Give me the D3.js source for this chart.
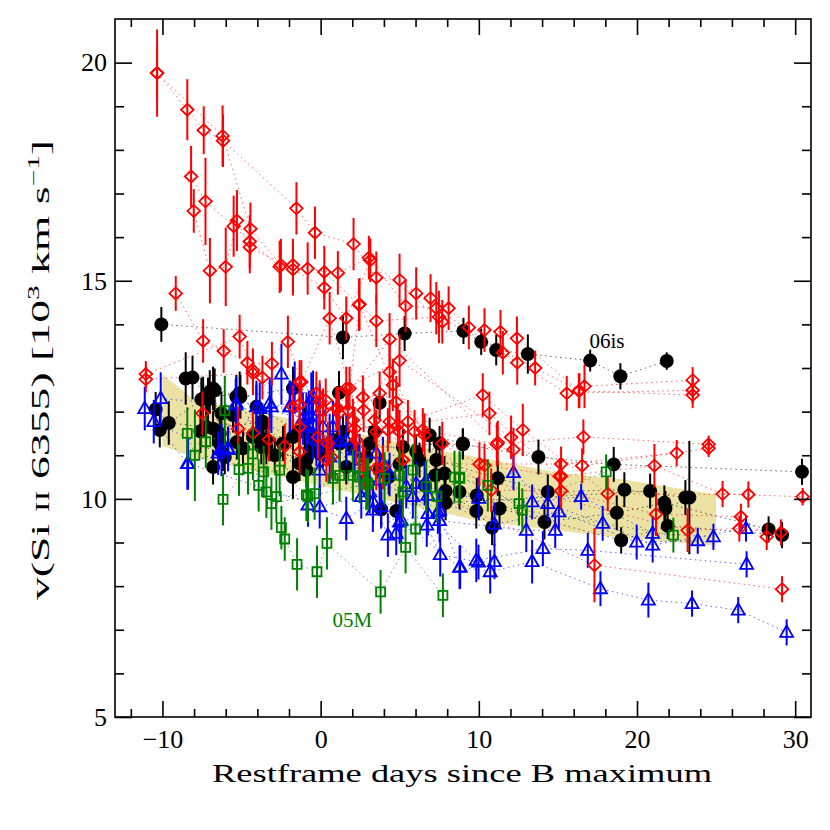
<!DOCTYPE html>
<html>
<head>
<meta charset="utf-8">
<script src="https://cdn.jsdelivr.net/npm/d3@7"></script>
<style>
  body { margin: 0; background: #fff; }
  text { font-family: "Liberation Serif", serif; }
</style>
</head>
<body>
<svg id="drawing_region"></svg>
<script>
// one track per SN, points are [day, v (10^3 km/s), error]
const black_tracks = [
  [[-10.07,14.0,0.4],[1.41,13.7,0.5],[5.31,13.79,0.4],[9.03,13.85,0.3],[10.15,13.6,0.3],[11.1,13.41,0.35],[13.1,13.32,0.45],[17.04,13.17,0.25],[18.95,12.81,0.3],[21.88,13.16,0.2]],
  [[-10.43,12.05,0.4],[-9.6,11.74,0.5],[-7.24,11.65,0.5],[-4.28,11.42,0.4],[-1.75,11.42,0.4],[1.2,11.27,0.4],[3.1,11.27,0.4],[6.04,11.08,0.4],[8.99,11.25,0.35],[13.77,10.96,0.4],[18.53,10.79,0.4],[30.43,10.62,0.3]],
  [[-8.53,12.76,0.6],[-6.8,12.53,0.5],[-5.07,12.34,0.5],[-1.75,12.53,0.5],[1.16,12.43,0.5],[3.73,12.2,0.4]],
  [[-8.1,12.78,0.5],[-7.12,12.28,0.5],[-6.27,11.96,0.5],[-4.06,12.11,0.5],[-1.33,11.54,0.4],[1.41,11.54,0.4],[3.41,11.54,0.4],[6.89,11.46,0.4],[8.99,11.27,0.35]],
  [[-10.17,11.58,0.4],[-7.54,12.28,0.5],[-6.8,11.61,0.4],[-3.68,11.77,0.4],[-0.06,11.04,0.4],[2.04,11.19,0.4],[5.2,11.19,0.4],[7.52,11.27,0.4]],
  [[-6.38,11.5,0.4],[-5.54,11.92,0.4],[-3.75,11.19,0.4],[-0.9,10.89,0.4],[0.57,11.27,0.4],[6.25,10.89,0.4],[7.31,10.89,0.4],[11.2,10.47,0.4],[14.36,10.16,0.4],[19.2,10.21,0.4],[23.06,10.03,0.4]],
  [[-6.06,10.96,0.4],[-4.91,11.16,0.4],[-3.43,11.35,0.4],[-1.75,10.5,0.5],[0.78,11.35,0.4],[3.83,9.76,0.4],[7.83,10.58,0.4],[8.78,10.16,0.4],[9.87,10.08,0.4],[14.15,9.47,0.4],[18.72,9.68,0.4],[21.73,9.91,0.4],[28.32,9.3,0.3]],
  [[-6.8,10.73,0.4],[0.15,11.12,0.4],[4.78,9.72,0.4],[7.26,10.54,0.4],[7.9,10.18,0.4],[9.84,9.72,0.4],[10.84,9.34,0.4],[11.31,9.78,0.4],[19.0,9.05,0.3],[21.94,9.38,0.3],[29.17,9.17,0.3]],
  [[1.62,10.73,0.4],[3.73,10.66,0.4],[4.99,10.8,0.4],[7.9,9.91,0.4],[20.83,10.18,0.4],[21.8,9.78,0.4],[23.31,10.03,1.3]],
  [[-7.6,11.55,0.5],[-5.3,11.3,0.4],[-2.9,11.0,0.4],[-1.0,11.6,0.5],[2.9,10.95,0.4],[4.3,10.5,0.4],[6.6,10.3,0.4]],
  [[-7.43,12.3,0.5],[-5.12,12.42,0.5],[-3.64,11.73,0.4],[-2.38,11.27,0.4],[-0.49,11.42,0.4]],
  [[-7.01,12.45,0.5],[-5.33,12.34,0.5],[-3.96,11.5,0.4],[-1.33,10.81,0.4],[-0.69,11.12,0.4]],
  [[-6.7,12.49,0.5],[-6.38,11.27,0.4],[-6.17,11.04,0.4],[-3.43,11.19,0.4],[-0.9,10.66,0.4]]
];

const red_tracks = [
  [[-10.34,19.76,1.0],[-8.43,18.92,0.7],[-7.39,18.45,0.55],[-6.17,18.21,0.6],[-1.53,16.66,0.6],[-0.36,16.1,0.6],[2.08,15.84,0.6],[3.52,15.07,0.6],[4.99,15.02,0.6],[6.04,14.71,0.6],[6.95,14.6,0.55],[8.09,14.37,0.5],[9.37,13.93,0.5],[10.36,13.87,0.5],[11.37,13.83,0.5],[12.41,13.68,0.5],[16.32,12.48,0.4],[16.68,12.58,0.5],[23.52,12.72,0.3]],
  [[-10.34,19.76,0.6],[-6.2,18.32,0.7],[-4.44,16.19,0.6],[-2.51,15.36,0.6],[-0.82,15.28,0.6],[1.09,15.18,0.5],[3.05,15.53,0.5],[5.37,14.42,0.6],[7.31,14.37,0.6],[11.52,13.35,0.5],[12.43,13.12,0.5],[15.56,12.42,0.4],[23.52,12.49,0.3]],
  [[-8.19,17.39,0.7],[-7.28,16.82,1.0],[-5.5,16.25,0.7],[-4.48,15.9,0.6],[-2.59,15.32,0.6],[-1.75,15.36,0.6],[0.23,15.2,0.6],[2.42,14.45,0.6],[3.52,14.08,0.6],[7.48,14.17,0.6],[13.56,13.0,0.4],[16.36,12.48,0.4],[23.52,12.38,0.3]],
  [[-8.02,16.6,0.5],[-7.0,15.23,0.75],[-6.0,15.32,0.9],[-5.29,16.38,0.7],[-4.48,15.77,0.6],[-1.75,15.26,0.6],[0.23,14.84,0.5],[1.62,14.14,0.5],[3.14,15.47,0.5],[7.69,14.06,0.5]],
  [[-9.16,14.71,0.4],[-7.43,13.62,0.5],[-6.13,13.39,0.5],[-4.63,13.12,0.5],[-3.08,13.1,0.5],[-1.33,12.68,0.5],[0.32,12.26,0.5],[2.72,12.03,0.5],[4.36,12.91,0.6],[6.57,11.46,0.5],[10.04,10.8,0.5],[15.2,10.8,0.4],[22.51,11.05,0.3]],
  [[-11.05,12.86,0.3],[-5.12,13.72,0.5],[-4.28,12.95,0.5],[-2.07,13.6,0.6],[-1.22,12.68,0.5],[0.57,14.14,0.6],[1.83,12.53,0.5],[2.46,14.46,0.6],[4.57,12.61,0.6],[6.46,11.58,0.5],[11.14,11.25,0.5],[16.61,11.42,0.4],[24.53,11.25,0.2]],
  [[-11.05,12.74,0.3],[-4.28,12.88,0.5],[-3.68,12.78,0.5],[-1.75,12.11,0.5],[-0.27,12.42,0.5],[1.09,12.07,0.5],[3.73,12.42,0.5],[4.78,12.22,0.6],[7.69,11.27,0.5],[12.19,11.13,0.5],[16.53,10.76,0.4],[24.53,11.16,0.2]],
  [[-7.47,11.96,0.5],[-5.22,11.61,0.5],[-4.28,11.51,0.5],[-3.27,11.36,0.5],[-2.27,11.21,0.5],[-1.33,11.08,0.5],[0.46,11.27,0.5],[2.25,11.35,0.5],[3.94,10.73,0.5],[5.2,10.89,0.5],[10.36,10.77,0.5],[15.2,10.52,0.4],[21.1,10.76,0.5],[25.41,10.11,0.3],[30.47,10.05,0.2]],
  [[-1.33,12.17,0.5],[-0.06,12.22,0.5],[1.16,11.96,0.5],[2.67,12.33,0.5],[3.41,11.8,0.5],[4.25,11.58,0.5],[5.52,11.77,0.5],[10.25,12.38,0.5],[12.78,11.58,0.6],[18.15,10.12,0.4],[27.04,10.1,0.3]],
  [[-0.17,11.42,0.5],[0.68,10.96,0.5],[2.04,11.8,0.5],[3.52,11.54,0.5],[4.99,11.54,0.5],[5.94,11.54,0.5],[10.78,10.2,0.5],[15.2,10.18,0.4],[21.2,9.65,0.5],[26.57,9.59,0.3],[28.2,9.13,0.3]],
  [[-1.33,11.65,0.5],[0.15,12.03,0.5],[1.72,12.03,0.5],[2.15,11.61,0.5],[4.88,11.69,0.5],[10.67,11.96,0.5],[15.1,10.52,0.4]],
  [[0.36,10.89,0.5],[2.67,10.81,0.5],[3.52,10.7,0.5],[17.31,8.48,0.85],[29.17,7.93,0.3]],
  [[2.78,10.7,0.5],[4.36,11.77,0.5],[5.2,10.89,0.5],[23.2,9.28,0.5],[26.47,9.32,0.3],[29.1,9.23,0.3]],
  [[0.99,12.07,0.5],[4.36,13.66,0.6],[11.2,11.29,0.5]],
  [[1.62,12.53,0.5],[4.99,13.17,0.6],[12.04,11.41,0.5]]
];

const blue_tracks = [
  [[-11.12,12.07,0.5],[-8.43,10.81,0.6],[-5.85,11.13,0.5],[-3.11,12.11,0.6],[-0.59,12.3,0.6],[1.62,11.35,0.6],[3.52,11.05,0.6],[6.04,10.35,0.5],[10.0,10.01,0.5],[13.37,9.93,0.4],[16.47,10.05,0.3],[20.99,9.21,0.4],[24.83,9.13,0.3]],
  [[-10.55,11.77,0.5],[-6.48,11.05,0.5],[-3.85,12.07,0.6],[-0.9,11.84,0.6],[0.78,11.65,0.6],[2.46,10.89,0.6],[4.36,10.56,0.5],[6.57,10.35,0.5],[7.52,9.74,0.5],[12.19,10.6,0.4],[14.36,9.89,0.4],[17.83,9.44,0.4],[20.99,8.94,0.4],[26.89,9.32,0.3]],
  [[-10.11,12.3,0.6],[-5.37,12.15,0.6],[-2.48,12.86,0.7],[-1.64,12.55,0.6],[-0.48,12.34,0.6],[0.15,11.65,0.6],[1.2,11.31,0.6],[3.73,10.43,0.5],[6.78,10.08,0.5],[10.99,9.42,0.5],[15.06,9.7,0.4],[19.98,9.01,0.4],[23.84,9.04,0.3]],
  [[-1.91,12.11,0.6],[-0.74,11.88,0.6],[0.57,11.35,0.6],[2.15,11.12,0.6],[3.94,10.82,0.6],[5.41,10.28,0.5],[7.52,9.5,0.5],[13.0,9.28,0.5],[14.83,9.28,0.4]],
  [[-0.06,12.03,0.6],[0.57,10.96,0.6],[2.88,10.5,0.5],[5.83,10.05,0.5],[6.78,9.66,0.5],[9.84,8.59,0.5],[14.05,8.86,0.4],[16.89,8.82,0.4],[26.93,8.5,0.3]],
  [[-0.06,10.66,0.6],[3.1,10.16,0.5],[3.3,9.74,0.5],[4.99,9.47,0.5],[7.41,9.7,0.5],[8.82,8.44,0.5],[10.72,8.33,0.5],[13.37,8.56,0.5],[17.69,7.94,0.4],[20.72,7.68,0.4],[23.48,7.6,0.3],[26.4,7.45,0.3],[29.46,6.94,0.3]],
  [[-0.8,9.86,0.5],[1.62,9.55,0.5],[3.31,9.93,0.5],[4.25,9.17,0.5],[6.71,9.4,0.5],[7.56,8.72,0.5],[9.98,8.55,0.4],[10.99,8.56,0.4]],
  [[-8.38,10.81,0.6],[-0.06,9.82,0.5],[2.57,10.05,0.5],[3.83,9.82,0.5],[5.1,9.51,0.5],[4.78,9.21,0.5],[8.78,8.43,0.5]],
  [[-6.27,11.12,0.6],[-5.33,12.19,0.6],[-3.22,12.19,0.6],[-1.12,11.84,0.6],[-0.49,11.5,0.6]],
  [[-5.85,11.16,0.5],[-4.06,12.11,0.6],[-1.96,12.11,0.6],[-0.9,11.65,0.6],[-0.27,11.35,0.6]]
];

const green_tracks = [
  [[-2.48,9.34,0.5],[-2.27,9.08,0.5],[-1.49,8.5,0.6],[-0.23,8.33,0.6],[0.4,8.98,0.6],[3.79,7.87,0.5],[5.37,8.89,0.6],[7.73,7.79,0.5]],
  [[-8.43,11.5,0.6],[-7.95,11.0,1.05],[-7.26,11.31,0.6],[-6.06,12.02,0.8],[-5.16,10.67,0.6],[-3.6,10.62,0.6],[-2.59,10.66,0.6],[-0.9,10.09,0.6],[1.2,10.54,0.6],[2.46,10.5,0.6],[4.04,10.47,0.6],[5.83,10.66,0.6],[8.78,10.5,0.6],[12.54,9.89,0.5],[18.05,10.62,0.4]],
  [[-6.17,9.99,0.6],[-4.59,10.7,0.6],[-3.43,10.16,0.6],[-2.8,10.05,0.6],[-0.38,10.12,0.6],[0.78,10.47,0.6],[2.04,10.54,0.6],[2.99,10.35,0.6],[4.99,10.54,0.6],[6.68,10.28,0.6],[8.46,10.5,0.6],[10.57,10.31,0.6],[12.75,9.74,0.5],[22.3,9.17,0.4]],
  [[-4.28,11.03,0.6],[-3.92,10.31,0.6],[-3.11,9.89,0.6],[-0.8,10.06,0.6],[2.88,10.34,0.6],[5.2,10.16,0.6],[6.0,9.31,0.6],[7.35,10.06,0.6],[8.8,10.47,0.6]]
];

// shaded band (mean +- spread)
const band_upper = [[-10,12.85],[-8,12.27],[0,11.7],[6,11.2],[10,10.95],[15,10.6],[19,10.45],[25,10.1]];
const band_lower = [[25,8.92],[18,9.15],[13,9.36],[10,9.5],[5,9.9],[0,10.3],[-8,10.95],[-10,11.22]];

const x_major = [-10, 0, 10, 20, 30];
const x_minor = [-12, -8, -6, -4, -2, 2, 4, 6, 8, 12, 14, 16, 18, 22, 24, 26, 28];
const y_major = [5, 10, 15, 20];
const y_minor = [6, 7, 8, 9, 11, 12, 13, 14, 16, 17, 18, 19];

const notes = [
  {text: '06is', day: 18.1, v: 13.46, color: 'black'},
  {text: '05M', day: 2.0, v: 7.06, color: '#008000'}
];

class VelocityPlot {

  constructor( config ) {
    this.config = config;
    this.init();
  }

  init() {
    let self = this;
    const c = self.config;

    self.svg = d3.select( c.parent )
      .attr('width', c.width)
      .attr('height', c.height);

    self.inner_width = c.width - c.margin.left - c.margin.right;
    self.inner_height = c.height - c.margin.top - c.margin.bottom;

    self.chart = self.svg.append('g')
      .attr('transform', `translate(${c.margin.left}, ${c.margin.top})`);

    self.xscale = d3.scaleLinear()
      .domain( [-13, 31] )
      .range( [0, self.inner_width] );

    self.yscale = d3.scaleLinear()
      .domain( [5, 21] )
      .range( [self.inner_height, 0] );

    self.chart.append('clipPath').attr('id', 'clip')
      .append('rect')
      .attr('width', self.inner_width)
      .attr('height', self.inner_height);

    self.plot = self.chart.append('g').attr('clip-path', 'url(#clip)');
  }

  render() {
    let self = this;

    const line = d3.line()
      .x(d => self.xscale(d[0]))
      .y(d => self.yscale(d[1]));

    // band
    self.plot.append('path')
      .attr('d', line(band_upper.concat(band_lower)) + 'Z')
      .attr('fill', '#ece2a4')
      .attr('stroke', 'none');

    const series = [
      {tracks: black_tracks, color: '#000000', shape: 'circle'},
      {tracks: blue_tracks,  color: '#0000ff', shape: 'triangle'},
      {tracks: red_tracks,   color: '#ff0000', shape: 'diamond'},
      {tracks: green_tracks, color: '#008000', shape: 'square'}
    ];

    // dotted connectors first
    series.forEach( s => {
      self.plot.append('g')
        .selectAll('path')
        .data(s.tracks)
        .join('path')
        .attr('d', d => line(d.slice().sort((a, b) => a[0] - b[0])))
        .attr('fill', 'none')
        .attr('stroke', s.color)
        .attr('stroke-width', 1)
        .attr('stroke-opacity', 0.6)
        .attr('stroke-dasharray', '1.5,3.5');
    });

    const shapes = {
      circle: 'M7,0A7,7,0,1,1,-7,0A7,7,0,1,1,7,0Z',
      triangle: 'M0,-7L6.5,4.5L-6.5,4.5Z',
      diamond: 'M0,-6L6.3,0L0,6L-6.3,0Z',
      square: 'M-4.5,-4.5L4.5,-4.5L4.5,4.5L-4.5,4.5Z'
    };

    series.forEach( s => {
      const pts = s.tracks.flat();
      const g = self.plot.append('g');

      g.selectAll('line')
        .data(pts)
        .join('line')
        .attr('x1', d => self.xscale(d[0]))
        .attr('x2', d => self.xscale(d[0]))
        .attr('y1', d => self.yscale(d[1] - d[2]))
        .attr('y2', d => self.yscale(d[1] + d[2]))
        .attr('stroke', s.color)
        .attr('stroke-width', 2);

      g.selectAll('path')
        .data(pts)
        .join('path')
        .attr('transform', d => `translate(${self.xscale(d[0])},${self.yscale(d[1])})`)
        .attr('d', shapes[s.shape])
        .attr('fill', s.shape == 'circle' ? s.color : 'none')
        .attr('stroke', s.color)
        .attr('stroke-width', s.shape == 'circle' ? 0 : 1.8);
    });

    // annotations
    self.chart.selectAll('.note')
      .data(notes)
      .join('text')
      .attr('class', 'note')
      .attr('x', d => self.xscale(d.day))
      .attr('y', d => self.yscale(d.v))
      .attr('text-anchor', 'middle')
      .attr('font-size', '21px')
      .attr('fill', d => d.color)
      .text(d => d.text);

    // frame
    self.chart.append('rect')
      .attr('width', self.inner_width)
      .attr('height', self.inner_height)
      .attr('fill', 'none')
      .attr('stroke', 'black')
      .attr('stroke-width', 1.6);

    self.axes();
  }

  axes() {
    let self = this;
    const w = self.inner_width, h = self.inner_height;

    const style = g => {
      g.select('.domain').remove();
      g.selectAll('.tick line').attr('stroke', 'black').attr('stroke-width', 1.6);
      g.selectAll('text').attr('font-family', '"Liberation Serif", serif').attr('font-size', '26px').attr('fill', 'black');
    };

    // bottom
    self.chart.append('g').attr('transform', `translate(0,${h})`)
      .call(d3.axisBottom(self.xscale).tickValues(x_major).tickSize(-16).tickPadding(13)
        .tickFormat(d => d < 0 ? '\u2212' + Math.abs(d) : d))
      .call(style);
    self.chart.append('g').attr('transform', `translate(0,${h})`)
      .call(d3.axisBottom(self.xscale).tickValues(x_minor).tickSize(-8).tickFormat(''))
      .call(style);
    // top
    self.chart.append('g')
      .call(d3.axisTop(self.xscale).tickValues(x_major).tickSize(-16).tickFormat(''))
      .call(style);
    self.chart.append('g')
      .call(d3.axisTop(self.xscale).tickValues(x_minor).tickSize(-8).tickFormat(''))
      .call(style);
    // left
    self.chart.append('g')
      .call(d3.axisLeft(self.yscale).tickValues(y_major).tickSize(-17).tickPadding(8))
      .call(style);
    self.chart.append('g')
      .call(d3.axisLeft(self.yscale).tickValues(y_minor).tickSize(-9).tickFormat(''))
      .call(style);
    // right
    self.chart.append('g').attr('transform', `translate(${w},0)`)
      .call(d3.axisRight(self.yscale).tickValues(y_major).tickSize(-17).tickFormat(''))
      .call(style);
    self.chart.append('g').attr('transform', `translate(${w},0)`)
      .call(d3.axisRight(self.yscale).tickValues(y_minor).tickSize(-9).tickFormat(''))
      .call(style);

    // x label
    self.chart.append('text')
      .attr('x', w / 2 - 1)
      .attr('y', h + 65)
      .attr('text-anchor', 'middle')
      .attr('font-size', '25px')
      .attr('textLength', 500)
      .attr('lengthAdjust', 'spacingAndGlyphs')
      .text('Restframe days since B maximum');

    // y label
    const yl = self.chart.append('text')
      .attr('transform', `translate(-66,351) rotate(-90)`)
      .attr('text-anchor', 'middle')
      .attr('font-size', '25px')
      .attr('textLength', 460)
      .attr('lengthAdjust', 'spacingAndGlyphs');
    yl.append('tspan').text('v(Si ');
    yl.append('tspan').attr('font-size', '18px').text('II');
    yl.append('tspan').text(' 6355)   [10');
    yl.append('tspan').attr('font-size', '16px').attr('dy', -10).text('3');
    yl.append('tspan').attr('dy', 10).text(' km s');
    yl.append('tspan').attr('font-size', '16px').attr('dy', -10).text('\u22121');
    yl.append('tspan').attr('dy', 10).text(']');
  }
}

const plot = new VelocityPlot({
  parent: '#drawing_region',
  width: 830,
  height: 830,
  margin: {top: 19, right: 19, bottom: 113, left: 115}
});
plot.render();
</script>
</body>
</html>
